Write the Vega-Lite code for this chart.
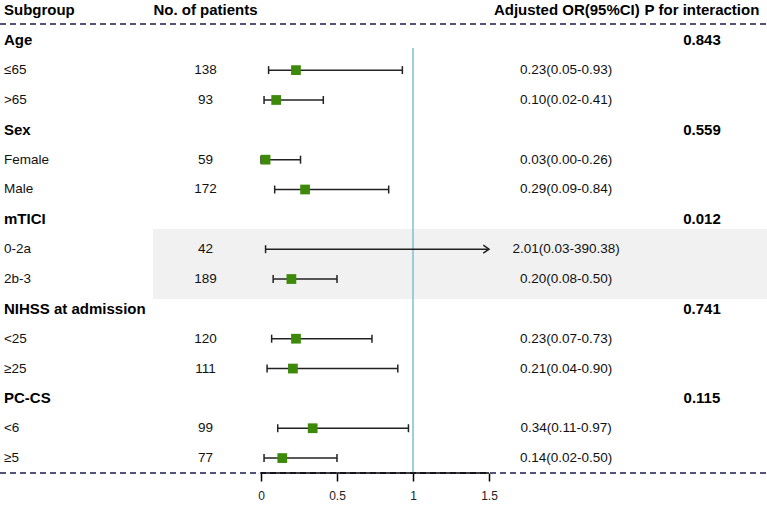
{
  "$schema": "https://vega.github.io/schema/vega-lite/v6.json",
  "width": 767,
  "height": 473,
  "autosize": {"type": "none"},
  "padding": {"left": 0, "top": 0, "right": 0, "bottom": 32},
  "background": "white",
  "config": {
    "view": {"stroke": null},
    "font": "Liberation Sans",
    "text": {"font": "Liberation Sans", "color": "#000000", "baseline": "middle"}
  },
  "data": {
    "values": [
      {"row": 0, "kind": "header", "label": "Subgroup", "n": "No. of patients", "ci": "Adjusted OR(95%CI)", "p": "P for interaction"},
      {"row": 1, "kind": "group", "label": "Age", "p": "0.843"},
      {"row": 2, "kind": "sub", "label": "≤65", "n": "138", "or": 0.23, "lo": 0.05, "hi": 0.93, "ci": "0.23(0.05-0.93)"},
      {"row": 3, "kind": "sub", "label": ">65", "n": "93", "or": 0.10, "lo": 0.02, "hi": 0.41, "ci": "0.10(0.02-0.41)"},
      {"row": 4, "kind": "group", "label": "Sex", "p": "0.559"},
      {"row": 5, "kind": "sub", "label": "Female", "n": "59", "or": 0.03, "lo": 0.00, "hi": 0.26, "ci": "0.03(0.00-0.26)"},
      {"row": 6, "kind": "sub", "label": "Male", "n": "172", "or": 0.29, "lo": 0.09, "hi": 0.84, "ci": "0.29(0.09-0.84)"},
      {"row": 7, "kind": "group", "label": "mTICI", "p": "0.012"},
      {"row": 8, "kind": "sub", "label": "0-2a", "n": "42", "or": 2.01, "lo": 0.03, "hi": 390.38, "ci": "2.01(0.03-390.38)"},
      {"row": 9, "kind": "sub", "label": "2b-3", "n": "189", "or": 0.20, "lo": 0.08, "hi": 0.50, "ci": "0.20(0.08-0.50)"},
      {"row": 10, "kind": "group", "label": "NIHSS at admission", "p": "0.741"},
      {"row": 11, "kind": "sub", "label": "<25", "n": "120", "or": 0.23, "lo": 0.07, "hi": 0.73, "ci": "0.23(0.07-0.73)"},
      {"row": 12, "kind": "sub", "label": "≥25", "n": "111", "or": 0.21, "lo": 0.04, "hi": 0.90, "ci": "0.21(0.04-0.90)"},
      {"row": 13, "kind": "group", "label": "PC-CS", "p": "0.115"},
      {"row": 14, "kind": "sub", "label": "<6", "n": "99", "or": 0.34, "lo": 0.11, "hi": 0.97, "ci": "0.34(0.11-0.97)"},
      {"row": 15, "kind": "sub", "label": "≥5", "n": "77", "or": 0.14, "lo": 0.02, "hi": 0.50, "ci": "0.14(0.02-0.50)"}
    ]
  },
  "layer": [
    {
      "transform": [{"filter": "datum.kind == 'header'"}],
      "mark": {"type": "rect", "color": "#f1f1f1"},
      "encoding": {
        "x": {"datum": -0.7105, "type": "quantitative", "scale": {"domain": [-1.71711, 3.32895], "nice": false, "zero": false},
          "axis": {"values": [0, 0.5, 1, 1.5], "format": "~g", "title": null, "grid": false, "domain": false, "ticks": true, "tickColor": "#000000", "tickSize": 8, "tickWidth": 1.5, "labelFontSize": 12, "labelColor": "#222222", "labelPadding": 9, "labelFont": "Liberation Sans", "labelFlush": false, "labelOverlap": false}},
        "x2": {"datum": 3.32895},
        "y": {"datum": 7.324, "type": "quantitative", "scale": {"domain": [-0.35, 15.5], "reverse": true, "nice": false, "zero": false}, "axis": null},
        "y2": {"datum": 9.67}
      }
    },
    {
      "transform": [{"filter": "datum.kind == 'header'"}],
      "mark": {"type": "rule", "color": "#1c1c50", "strokeWidth": 1.5, "strokeDash": [6, 4]},
      "encoding": {
        "x": {"datum": -1.71711, "type": "quantitative"},
        "x2": {"datum": 3.32895},
        "y": {"datum": 0.454, "type": "quantitative"}
      }
    },
    {
      "transform": [{"filter": "datum.kind == 'header'"}],
      "mark": {"type": "rule", "color": "#1c1c50", "strokeWidth": 1.5, "strokeDash": [6, 4]},
      "encoding": {
        "x": {"datum": -1.71711, "type": "quantitative"},
        "x2": {"datum": 3.32895},
        "y": {"datum": 15.5, "type": "quantitative"}
      }
    },
    {
      "transform": [{"filter": "datum.kind == 'header'"}],
      "mark": {"type": "rule", "color": "#7cc0d1", "strokeWidth": 1.5},
      "encoding": {
        "x": {"datum": 1, "type": "quantitative"},
        "y": {"datum": 1.258, "type": "quantitative"},
        "y2": {"datum": 15.5}
      }
    },
    {
      "transform": [{"filter": "datum.kind == 'header'"}],
      "mark": {"type": "rule", "color": "#000000", "strokeWidth": 1.5},
      "encoding": {
        "x": {"datum": 0, "type": "quantitative"},
        "x2": {"datum": 1.5},
        "y": {"datum": 15.5, "type": "quantitative"}
      }
    },
    {
      "transform": [{"filter": "isValid(datum.hi) && datum.hi <= 1.5"}],
      "mark": {"type": "rule", "color": "#222222", "strokeWidth": 1.5},
      "encoding": {
        "x": {"field": "lo", "type": "quantitative"},
        "x2": {"field": "hi"},
        "y": {"field": "row", "type": "quantitative"}
      }
    },
    {
      "transform": [{"filter": "isValid(datum.hi) && datum.hi > 1.5"}],
      "mark": {"type": "rule", "color": "#222222", "strokeWidth": 1.5},
      "encoding": {
        "x": {"field": "lo", "type": "quantitative"},
        "x2": {"datum": 1.5},
        "y": {"field": "row", "type": "quantitative"}
      }
    },
    {
      "transform": [{"filter": "isValid(datum.hi) && datum.hi > 1.5"}],
      "mark": {"type": "point", "shape": "M-1,-0.7L0,0L-1,0.7", "filled": false, "stroke": "#222222", "strokeWidth": 1.5, "size": 130, "opacity": 1},
      "encoding": {
        "x": {"datum": 1.5, "type": "quantitative"},
        "y": {"field": "row", "type": "quantitative"}
      }
    },
    {
      "transform": [{"filter": "isValid(datum.lo)"}],
      "mark": {"type": "tick", "orient": "vertical", "color": "#222222", "size": 8, "thickness": 1.5, "opacity": 1},
      "encoding": {
        "x": {"field": "lo", "type": "quantitative"},
        "y": {"field": "row", "type": "quantitative"}
      }
    },
    {
      "transform": [{"filter": "isValid(datum.hi) && datum.hi <= 1.5"}],
      "mark": {"type": "tick", "orient": "vertical", "color": "#222222", "size": 8, "thickness": 1.5, "opacity": 1},
      "encoding": {
        "x": {"field": "hi", "type": "quantitative"},
        "y": {"field": "row", "type": "quantitative"}
      }
    },
    {
      "transform": [{"filter": "isValid(datum.or) && datum.or <= 1.5"}],
      "mark": {"type": "point", "shape": "square", "filled": true, "color": "#3d8a0b", "size": 95, "opacity": 1},
      "encoding": {
        "x": {"field": "or", "type": "quantitative"},
        "y": {"field": "row", "type": "quantitative"}
      }
    },
    {
      "transform": [{"filter": "datum.kind != 'sub'"}],
      "mark": {"type": "text", "align": "left", "fontSize": 15, "fontWeight": "bold"},
      "encoding": {
        "x": {"datum": -1.691, "type": "quantitative"},
        "y": {"field": "row", "type": "quantitative"},
        "text": {"field": "label"}
      }
    },
    {
      "transform": [{"filter": "datum.kind == 'sub'"}],
      "mark": {"type": "text", "align": "left", "fontSize": 13.5, "color": "#111111"},
      "encoding": {
        "x": {"datum": -1.691, "type": "quantitative"},
        "y": {"field": "row", "type": "quantitative"},
        "text": {"field": "label"}
      }
    },
    {
      "transform": [{"filter": "datum.kind == 'header'"}],
      "mark": {"type": "text", "align": "center", "fontSize": 15, "fontWeight": "bold"},
      "encoding": {
        "x": {"datum": -0.365, "type": "quantitative"},
        "y": {"field": "row", "type": "quantitative"},
        "text": {"field": "n"}
      }
    },
    {
      "transform": [{"filter": "datum.kind == 'sub'"}],
      "mark": {"type": "text", "align": "center", "fontSize": 13.5, "color": "#111111"},
      "encoding": {
        "x": {"datum": -0.365, "type": "quantitative"},
        "y": {"field": "row", "type": "quantitative"},
        "text": {"field": "n"}
      }
    },
    {
      "transform": [{"filter": "datum.kind == 'header'"}],
      "mark": {"type": "text", "align": "center", "fontSize": 15, "fontWeight": "bold"},
      "encoding": {
        "x": {"datum": 2.012, "type": "quantitative"},
        "y": {"field": "row", "type": "quantitative"},
        "text": {"field": "ci"}
      }
    },
    {
      "transform": [{"filter": "datum.kind == 'sub'"}],
      "mark": {"type": "text", "align": "center", "fontSize": 13.5, "color": "#111111"},
      "encoding": {
        "x": {"datum": 2.007, "type": "quantitative"},
        "y": {"field": "row", "type": "quantitative"},
        "text": {"field": "ci"}
      }
    },
    {
      "transform": [{"filter": "isValid(datum.p)"}],
      "mark": {"type": "text", "align": "center", "fontSize": 15, "fontWeight": "bold"},
      "encoding": {
        "x": {"datum": 2.901, "type": "quantitative"},
        "y": {"field": "row", "type": "quantitative"},
        "text": {"field": "p"}
      }
    }
  ]
}
